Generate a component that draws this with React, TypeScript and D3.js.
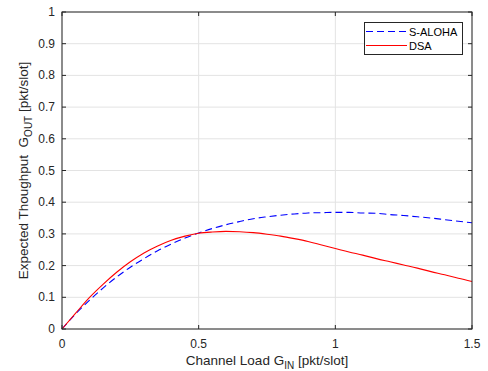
import * as d3 from 'd3';

// channel load G_IN
const loads = [0, 0.05, 0.1, 0.15, 0.2, 0.25, 0.3, 0.35, 0.4, 0.45, 0.5, 0.55, 0.6, 0.65, 0.7, 0.75,
  0.8, 0.85, 0.9, 0.95, 1.0, 1.05, 1.1, 1.15, 1.2, 1.25, 1.3, 1.35, 1.4, 1.45, 1.5];

const alohaVals = [0, 0.048, 0.090, 0.129, 0.164, 0.195, 0.222, 0.247, 0.268, 0.287, 0.303, 0.317, 0.329,
  0.339, 0.348, 0.354, 0.359, 0.363, 0.366, 0.367, 0.368, 0.368, 0.366, 0.365, 0.361, 0.358, 0.354,
  0.350, 0.345, 0.340, 0.335];

const dsaVals = [0, 0.05, 0.099, 0.141, 0.179, 0.212, 0.24, 0.262, 0.28, 0.293, 0.302, 0.306, 0.308,
  0.307, 0.304, 0.299, 0.293, 0.285, 0.276, 0.265, 0.254, 0.243, 0.233, 0.222, 0.212, 0.202, 0.192,
  0.181, 0.171, 0.16, 0.15];

const xTicks = [0, 0.5, 1, 1.5];
const yTicks = [0, 0.1, 0.2, 0.3, 0.4, 0.5, 0.6, 0.7, 0.8, 0.9, 1];

const W = 488, H = 371;
const m = { left: 62, right: 16, top: 12, bottom: 42 };
const font = '"Liberation Sans", Arial, Helvetica, sans-serif';
const axisCol = '#262626';

export default function App() {
  const x = d3.scaleLinear().domain([0, 1.5]).range([m.left, W - m.right]);
  const y = d3.scaleLinear().domain([0, 1]).range([H - m.bottom, m.top]);

  const line = d3.line<number>()
    .x((_, i) => x(loads[i]))
    .y(d => y(d))
    .curve(d3.curveMonotoneX);

  const x0 = x(0), x1 = x(1.5), y0 = y(0), y1 = y(1);

  return (
    <svg width={W} height={H} style={{ position: 'absolute', left: 0, top: 0, background: '#fff' }}
      fontFamily={font}>
      <rect x={0} y={0} width={W} height={H} fill="#fff" />
      {/* grid */}
      {xTicks.map(t => (
        <line key={'gx' + t} x1={x(t)} x2={x(t)} y1={y0} y2={y1} stroke="#e3e3e3" strokeWidth={1} />
      ))}
      {yTicks.map(t => (
        <line key={'gy' + t} x1={x0} x2={x1} y1={y(t)} y2={y(t)} stroke="#e3e3e3" strokeWidth={1} />
      ))}
      {/* series */}
      <path d={line(alohaVals) || ''} fill="none" stroke="#0000ff" strokeWidth={1.1} strokeDasharray="7,4" />
      <path d={line(dsaVals) || ''} fill="none" stroke="#ff0000" strokeWidth={1.1} />
      {/* axes box */}
      <rect x={x0} y={y1} width={x1 - x0} height={y0 - y1} fill="none" stroke={axisCol} strokeWidth={1} />
      {xTicks.map(t => (
        <g key={'tx' + t}>
          <line x1={x(t)} x2={x(t)} y1={y0} y2={y0 - 4} stroke={axisCol} />
          <line x1={x(t)} x2={x(t)} y1={y1} y2={y1 + 4} stroke={axisCol} />
          <text x={x(t)} y={y0 + 19} textAnchor="middle" fontSize={12} fill={axisCol}>{t}</text>
        </g>
      ))}
      {yTicks.map(t => (
        <g key={'ty' + t}>
          <line x1={x0} x2={x0 + 4} y1={y(t)} y2={y(t)} stroke={axisCol} />
          <line x1={x1} x2={x1 - 4} y1={y(t)} y2={y(t)} stroke={axisCol} />
          <text x={x0 - 7} y={y(t) + 4} textAnchor="end" fontSize={12} fill={axisCol}>{t}</text>
        </g>
      ))}
      {/* axis labels */}
      <text x={(x0 + x1) / 2} y={365} textAnchor="middle" fontSize={13.5} fill={axisCol}>
        Channel Load G<tspan fontSize={10} dy={4}>IN</tspan><tspan dy={-4}> [pkt/slot]</tspan>
      </text>
      <text transform={`translate(28,${(y0 + y1) / 2}) rotate(-90)`} textAnchor="middle" fontSize={13.5}
        fill={axisCol} xmlSpace="preserve">
        Expected Thoughput  G<tspan fontSize={10} dy={4}>OUT</tspan><tspan dy={-4}> [pkt/slot]</tspan>
      </text>
      {/* legend */}
      <g>
        <rect x={364.5} y={22.5} width={98} height={32} fill="#fff" stroke={axisCol} strokeWidth={1} />
        <line x1={366} x2={407} y1={31.5} y2={31.5} stroke="#0000ff" strokeWidth={1.1} strokeDasharray="7,4" />
        <text x={409} y={35.5} fontSize={11} fill="#000">S-ALOHA</text>
        <line x1={366} x2={407} y1={45.5} y2={45.5} stroke="#ff0000" strokeWidth={1.1} />
        <text x={409} y={49.5} fontSize={11} fill="#000">DSA</text>
      </g>
    </svg>
  );
}
